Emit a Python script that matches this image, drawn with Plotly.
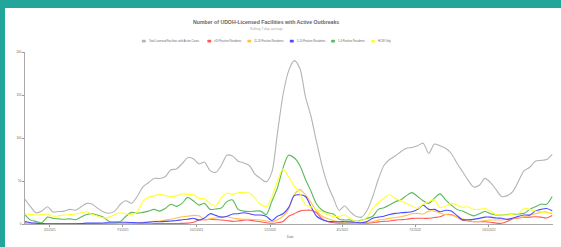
import pandas as pd
import plotly.graph_objects as go

# ---------------- data (weekly readings, rolling 7-day average) ----------------
start_date = "2021-03-01"
n_weeks = 95
dates = pd.date_range(start_date, periods=n_weeks, freq="7D")

series_names = [
    "Total Licensed Facilities with Active Cases",
    ">20 Positive Residents",
    "11-20 Positive Residents",
    "5-10 Positive Residents",
    "1-4 Positive Residents",
    "HCW Only",
]

total_active = [
    28.7, 20, 13, 15, 20, 14, 14.5, 15, 17, 16,
    20, 24, 23, 18, 14, 12.5, 15, 23, 27, 24,
    32, 43, 48, 53, 53, 55, 63, 64, 70, 77,
    76, 70, 72, 62, 60, 68, 80, 79, 73, 71,
    68, 58, 53, 49, 60, 105, 150, 178, 190, 181,
    148, 125, 95, 67, 45, 30, 16, 21, 14, 9,
    8, 16, 32, 52, 68, 75, 79, 84, 88, 89,
    91, 94, 82, 93, 91, 88, 82, 71, 61, 51,
    43, 45, 53, 48, 40, 32, 33, 38, 50, 62,
    66, 73, 74, 75, 81,
]

gt20_positive = [
    1.5, 0.8, 0.3, 0.3, 0.3, 0.3, 0.3, 0.3, 0.3, 0.3,
    0.3, 0.3, 0.3, 0.3, 0.3, 0.3, 0.3, 0.3, 0.3, 0.3,
    0.3, 0.3, 0.3, 0.4, 0.4, 0.5, 0.5, 0.6, 0.7, 1,
    2, 4.5, 5, 5.4, 5, 4.7, 4, 3, 3.5, 4.5,
    4.5, 3.5, 2.7, 1.5, 0.8, 1.5, 3, 9, 12, 15,
    16, 16, 13, 6, 3, 1.5, 1, 0.8, 0.8, 0.8,
    0.8, 1, 1.5, 2.5, 3, 3.5, 4.5, 5, 5.5, 6.5,
    6.6, 6.6, 6.6, 7.5, 8.5, 11, 11, 8, 4.5, 3.5,
    2.7, 2.7, 2.7, 2, 1, 0.8, 3, 6, 7, 7.8,
    8, 8.5, 8, 7, 10,
]

p11_20_positive = [
    0.5, 0.3, 0.3, 0.3, 0.3, 0.3, 0.3, 0.3, 0.3, 0.3,
    0.3, 0.3, 0.3, 0.3, 0.3, 0.5, 0.7, 0.8, 1, 1.2,
    1.5, 2, 2.5, 3, 3.5, 4.5, 5.5, 7, 8.5, 9,
    10, 9.5, 5, 6, 7, 8, 8.5, 7, 6, 5.5,
    5.4, 5, 4.7, 3.5, 2.7, 5, 9, 17, 34, 40,
    34, 25, 15, 9, 6, 4, 2.5, 1.5, 1.2, 1,
    1, 2, 3, 4.5, 5.5, 6.5, 7.5, 8.5, 10, 12,
    12.4, 11.6, 15, 15, 12.5, 11, 10.5, 8, 6, 4,
    2.7, 3, 4, 4.7, 4.7, 4.7, 5.5, 6.6, 7.5, 8.5,
    10, 12, 13.5, 14, 11.6,
]

p5_10_positive = [
    3, 1.5, 1, 0.4, 0.3, 0.3, 0.3, 0.3, 0.3, 0.3,
    0.5, 1, 1, 1, 1.2, 1.5, 1.5, 2, 2, 1.8,
    1.5, 1.5, 2, 2.7, 2.7, 3, 3.5, 4, 5, 5.5,
    6.6, 4.7, 7, 12, 10, 8, 9, 11.6, 12, 13,
    12, 10.5, 10.5, 9, 4, 9, 12, 19, 33, 34,
    32, 20, 9, 5, 3, 2.7, 2.7, 2.7, 2.5, 2,
    1.5, 3, 6.6, 8, 9, 11, 12.4, 13, 13.5, 14.3,
    17, 22, 17, 17, 14.3, 16, 15, 10, 5, 5,
    5.4, 6.5, 8, 8, 7, 6.6, 5.4, 7, 9, 10.5,
    10.5, 15, 17, 18, 15.5,
]

p1_4_positive = [
    10.5, 4.5, 3, 1.5, 8, 6.6, 6, 5.5, 6, 5,
    8, 11, 12, 10, 8, 3, 2.7, 2.7, 9, 13.5,
    12.5, 13.5, 15, 17, 15, 18, 23, 20.5, 24, 31,
    27, 22, 24, 17, 17.5, 18.5, 26, 28, 17, 15,
    14.5, 15, 15, 11, 26, 42, 65, 80, 77, 68,
    52, 38, 23, 16, 13, 11.5, 5.5, 4.7, 4.7, 3,
    4.5, 6.6, 9, 17, 19, 22, 26, 28, 33, 36.5,
    32, 27, 24, 30, 35, 28, 22, 17, 15, 12,
    9.5, 12, 14.5, 12, 10.5, 10.5, 11, 11.5, 11.6, 12.4,
    17, 20, 23, 23, 32,
]

hcw_only = [
    11.6, 11, 10.5, 11, 11.5, 9, 9.5, 10.5, 11, 11.6,
    13, 14.3, 11, 9, 7, 8, 11, 13, 12, 11,
    14, 26, 31, 32.6, 34.5, 33, 32, 33, 34.9, 34.5,
    34, 30, 29, 24, 21, 30, 36, 34.5, 36.4, 36.4,
    36, 30, 23, 20, 31, 50, 64, 55, 44, 36,
    22, 20, 17, 14, 11, 8.5, 9, 10.5, 6, 3,
    4, 8, 18, 25, 30, 34, 30, 27, 24, 21,
    18, 23, 26, 28, 19, 21, 24, 22, 19.5, 20,
    17, 17, 18, 15, 11, 10.5, 10.5, 11.5, 12.4, 18,
    17, 15, 14, 12.5, 14,
]

x_tick_vals = ["2021-04-01", "2021-07-01", "2021-10-01", "2022-01-01",
               "2022-04-01", "2022-07-01", "2022-10-01"]
x_tick_text = ["4/1/2021", "7/1/2021", "10/1/2021", "1/1/2022",
               "4/1/2022", "7/1/2022", "10/1/2022"]
y_tick_vals = [0, 50, 100, 150, 200]

title_text = "Number of UDOH-Licensed Facilities with Active Outbreaks"
subtitle_text = "Rolling 7-day average"
x_title = "Date"

# ---------------- styling ----------------
colors = ["#b4b4b4", "#ff5a5a", "#ffc24a", "#4a4aff", "#5cb85c", "#ffff2e"]
all_series = [total_active, gt20_positive, p11_20_positive,
              p5_10_positive, p1_4_positive, hcw_only]

W, H = 561, 247
L, R, T, B = 25, 8, 52, 23
PW, PH = W - L - R, H - T - B
FONT = "Liberation Sans, Arial, sans-serif"


def px_x(px):
    return (px - L) / PW


def px_y(py):
    return (H - B - py) / PH


fig = go.Figure()
for name, vals, col in zip(series_names, all_series, colors):
    fig.add_trace(go.Scatter(
        x=dates, y=vals, name=name, mode="lines",
        line=dict(color=col, width=1.1, shape="spline", smoothing=0.8),
        showlegend=False, hoverinfo="x+y+name",
    ))

shapes = [
    dict(type="rect", xref="paper", yref="paper", layer="below",
         x0=px_x(5), x1=px_x(W + 20), y0=px_y(H + 20), y1=px_y(8),
         fillcolor="white", line=dict(width=0)),
]
annotations = [
    dict(text=title_text, xref="paper", yref="paper", x=px_x(266), y=px_y(22),
         showarrow=False, xanchor="center", yanchor="middle",
         font=dict(family=FONT, size=5.2, color="#666666", weight="bold")),
    dict(text=subtitle_text, xref="paper", yref="paper", x=px_x(266), y=px_y(29.3),
         showarrow=False, xanchor="center", yanchor="middle",
         font=dict(family=FONT, size=3.4, color="#aaaaaa")),
    dict(text=x_title, xref="paper", yref="paper", x=px_x(290), y=px_y(237),
         showarrow=False, xanchor="center", yanchor="middle",
         font=dict(family=FONT, size=3, color="#666666")),
]

# custom compact legend (boxes + text), matching the reference layout
legend_text_px = [146.7, 212.3, 252.3, 294.7, 336.0, 376.0]
for name, col, tx in zip(series_names, colors, legend_text_px):
    shapes.append(dict(type="rect", xref="paper", yref="paper",
                       x0=px_x(tx - 4.6), x1=px_x(tx - 1.3),
                       y0=px_y(42.2), y1=px_y(40.0),
                       fillcolor=col, line=dict(width=0.5, color=col)))
    annotations.append(dict(text=name, xref="paper", yref="paper",
                            x=px_x(tx), y=px_y(41.1), showarrow=False,
                            xanchor="left", yanchor="middle",
                            font=dict(family=FONT, size=2.7, color="#666666")))

fig.update_layout(
    width=W, height=H,
    margin=dict(l=L, r=R, t=T, b=B, pad=0),
    paper_bgcolor="#22a699",
    plot_bgcolor="white",
    showlegend=False,
    shapes=shapes,
    annotations=annotations,
    font=dict(family=FONT, size=3, color="#666666"),
)
fig.update_xaxes(
    type="date", range=["2021-03-01", "2022-12-20"],
    tickvals=x_tick_vals, ticktext=x_tick_text,
    ticks="outside", ticklen=2, tickwidth=0.6, tickcolor="#999999",
    showline=True, linecolor="#aaaaaa", linewidth=1,
    showgrid=False, zeroline=False,
    tickfont=dict(family=FONT, size=3, color="#666666"),
)
fig.update_yaxes(
    range=[0, 200], tickvals=y_tick_vals,
    ticks="outside", ticklen=2, tickwidth=0.6, tickcolor="#999999",
    showline=True, linecolor="#aaaaaa", linewidth=1,
    showgrid=False, zeroline=False,
    tickfont=dict(family=FONT, size=3, color="#666666"),
)

fig.write_html(
    "out.html",
    config={"displayModeBar": False},
    post_script="document.body.style.margin='0px';"
                "document.body.style.overflow='hidden';",
)
